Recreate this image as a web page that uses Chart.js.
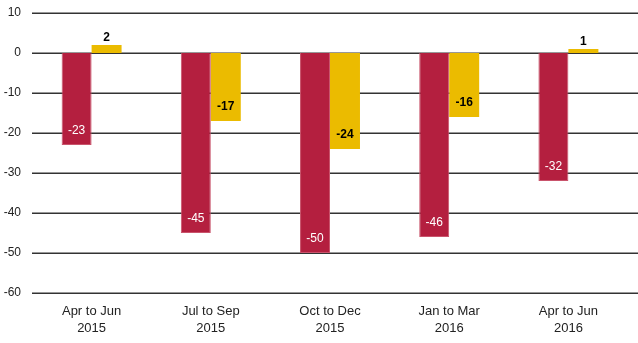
<!DOCTYPE html>
<html>
<head>
<meta charset="utf-8">
<script src="https://cdn.jsdelivr.net/npm/chart.js@4"></script>
<style>
  html, body { margin: 0; padding: 0; background: #fff; }
  #wrap { width: 638px; height: 343px; }
</style>
</head>
<body>
<div id="wrap"><canvas id="chart"></canvas></div>
<script>
const categories = [
  ["Apr to Jun", "2015"],
  ["Jul to Sep", "2015"],
  ["Oct to Dec", "2015"],
  ["Jan to Mar", "2016"],
  ["Apr to Jun", "2016"],
];
const redValues = [-23, -45, -50, -46, -32];
const yellowValues = [2, -17, -24, -16, 1];
const yTicks = [10, 0, -10, -20, -30, -40, -50, -60];

// horizontal grid lines run to the right edge of the canvas
const gridLines = {
  id: "gridLines",
  beforeDatasetsDraw(chart) {
    const ctx = chart.ctx;
    const y = chart.scales.y;
    ctx.save();
    ctx.strokeStyle = "#333";
    ctx.lineWidth = 1.5;
    yTicks.forEach((v) => {
      const py = Math.round(y.getPixelForValue(v)) + 0.25;
      ctx.beginPath();
      ctx.moveTo(chart.chartArea.left, py);
      ctx.lineTo(chart.width, py);
      ctx.stroke();
    });
    ctx.restore();
  },
};

// draws value labels: inside the bar end for negatives, above for positives
const barLabels = {
  id: "barLabels",
  afterDatasetsDraw(chart) {
    const ctx = chart.ctx;
    chart.data.datasets.forEach((ds, i) => {
      const meta = chart.getDatasetMeta(i);
      meta.data.forEach((bar, j) => {
        const v = ds.data[j];
        ctx.save();
        ctx.textAlign = "center";
        ctx.textBaseline = "middle";
        ctx.font = (i === 1 ? "bold " : "") + "12px 'Liberation Sans', Arial, sans-serif";
        let y;
        if (v >= 0) {
          ctx.fillStyle = "#000";
          y = bar.y - 7;
        } else {
          ctx.fillStyle = i === 0 ? "#fff" : "#000";
          y = bar.y - 14;
        }
        ctx.fillText(String(v), bar.x, y);
        ctx.restore();
      });
    });
  },
};

new Chart(document.getElementById("chart"), {
  type: "bar",
  data: {
    labels: categories,
    datasets: [
      {
        data: redValues,
        backgroundColor: "#b41f3f",
        borderColor: "#c9546c",
        borderWidth: { left: 1, right: 1, top: 0, bottom: 1 },
        borderSkipped: "start",
      },
      {
        data: yellowValues,
        backgroundColor: "#ebbb00",
        borderWidth: 0,
      },
    ],
  },
  options: {
    responsive: true,
    maintainAspectRatio: false,
    animation: false,
    layout: { padding: { top: 0, right: 10, left: 4, bottom: 0 } },
    plugins: {
      legend: { display: false },
      tooltip: { enabled: false },
    },
    datasets: {
      bar: { categoryPercentage: 0.503, barPercentage: 1 },
    },
    scales: {
      x: {
        grid: { display: false, drawTicks: false },
        border: { display: false },
        afterFit(scale) {
          scale.height = 50;
        },
        ticks: {
          color: "#222",
          font: { family: "'Liberation Sans', Arial, sans-serif", size: 13, lineHeight: 1.3 },
          padding: 10,
          maxRotation: 0,
        },
      },
      y: {
        min: -60,
        max: 10,
        afterBuildTicks(axis) {
          axis.ticks = yTicks.map((v) => ({ value: v }));
        },
        afterFit(scale) {
          scale.width = 28;
          scale.paddingTop = 13;
          scale.paddingBottom = 0;
        },
        grid: { display: false, drawTicks: false },
        border: { display: false },
        ticks: {
          color: "#222",
          font: { family: "'Liberation Sans', Arial, sans-serif", size: 12 },
          padding: 11,
        },
      },
    },
  },
  plugins: [gridLines, barLabels],
});
</script>
</body>
</html>
